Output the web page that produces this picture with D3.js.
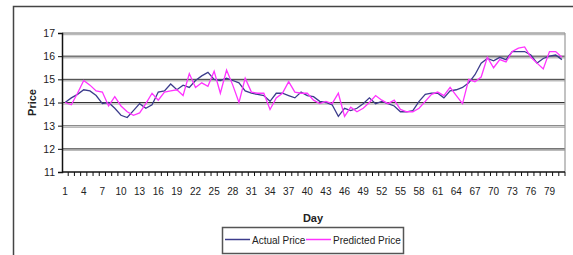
<!DOCTYPE html>
<html>
<head>
<meta charset="utf-8">
<script src="https://cdn.jsdelivr.net/npm/d3@7/dist/d3.min.js"></script>
<style>
  body { margin: 0; background: #fff; }
  svg text { font-family: "Liberation Sans", Arial, sans-serif; fill: #222; }
</style>
</head>
<body>
<svg id="chart" width="573" height="255"></svg>
<script>
// days 1..81
var days = d3.range(1, 82);
var actualPrice = [
  14.0, 14.2, 14.35, 14.55, 14.5, 14.3, 13.95, 14.0, 13.75, 13.45,
  13.35, 13.65, 13.95, 13.75, 13.9, 14.45, 14.5, 14.8, 14.55, 14.75,
  14.65, 14.95, 15.15, 15.3, 15.0, 14.95, 15.05, 14.95, 14.85, 14.5,
  14.4, 14.35, 14.3, 14.05, 14.4, 14.4, 14.3, 14.2, 14.45, 14.3,
  14.25, 14.05, 14.0, 13.9, 13.4, 13.75, 13.65, 13.75, 13.95, 14.2,
  13.95, 14.05, 13.95, 13.85, 13.6, 13.6, 13.65, 14.05, 14.35, 14.4,
  14.4, 14.2, 14.5, 14.55, 14.65, 14.85, 15.2, 15.7, 15.9, 15.8,
  15.95, 15.85, 16.2, 16.2, 16.2, 16.05, 15.7, 15.9, 16.0, 16.05,
  15.85
];
var predictedPrice = [
  14.0, 13.9, 14.4, 14.95, 14.75, 14.5, 14.45, 13.85, 14.25, 13.85,
  13.6, 13.45, 13.55, 13.95, 14.4, 14.1, 14.45, 14.5, 14.55, 14.3,
  15.25, 14.65, 14.85, 14.7, 15.35, 14.4, 15.4, 14.75, 14.0, 15.05,
  14.45, 14.4, 14.4, 13.7, 14.2, 14.4, 14.9, 14.45, 14.4, 14.4,
  14.1, 13.95, 14.05, 13.95, 14.4, 13.4, 13.8, 13.6, 13.75, 14.0,
  14.3, 14.1, 13.95, 14.1, 13.7, 13.6, 13.6, 13.75, 14.05, 14.35,
  14.45, 14.3, 14.65, 14.3, 13.95, 15.0, 14.9, 15.1, 15.95, 15.5,
  15.85, 15.75, 16.2, 16.35, 16.4, 15.95, 15.7, 15.45, 16.2, 16.2,
  15.95
];
var yTicks = [11, 12, 13, 14, 15, 16, 17];
var xTickLabels = d3.range(1, 82, 3);

var svg = d3.select('#chart');
var margin = { top: 33, right: 8, bottom: 83, left: 62 };
var width = 573, height = 255;
var innerWidth = width - margin.left - margin.right;
var innerHeight = height - margin.top - margin.bottom;

// outer frame (partial, like the cropped original)
svg.append('path')
  .attr('d', 'M13.5,255 L13.5,6.5 L573,6.5')
  .attr('fill', 'none')
  .attr('stroke', '#444')
  .attr('stroke-width', 1.5);

var g = svg.append('g')
  .attr('transform', 'translate(' + margin.left + ',' + margin.top + ')');

var x_scale = d3.scaleBand()
  .domain(days)
  .range([0, innerWidth]);

var y_scale = d3.scaleLinear()
  .domain([11, 17])
  .range([innerHeight, 0]);

// gridlines: dark line with a soft grey shadow
yTicks.slice(1).forEach(function(t) {
  g.append('line')
    .attr('x1', 0).attr('x2', innerWidth)
    .attr('y1', y_scale(t) + 1.5).attr('y2', y_scale(t) + 1.5)
    .attr('stroke', '#bbb').attr('stroke-width', 1.5);
  g.append('line')
    .attr('x1', 0).attr('x2', innerWidth)
    .attr('y1', y_scale(t)).attr('y2', y_scale(t))
    .attr('stroke', t === 17 || t === 13 ? '#777' : '#333').attr('stroke-width', 1);
});

// right border of plot area
g.append('line')
  .attr('x1', innerWidth).attr('x2', innerWidth)
  .attr('y1', 0).attr('y2', innerHeight)
  .attr('stroke', '#999').attr('stroke-width', 1.2);

// y axis
var yAxis = d3.axisLeft(y_scale).tickValues(yTicks).tickFormat(d3.format('d')).tickSize(4).tickPadding(3);
var yAxis_g = g.append('g').call(yAxis);
yAxis_g.select('.domain').attr('stroke', '#111').attr('stroke-width', 1.5);
yAxis_g.selectAll('.tick line').attr('stroke', '#111');
yAxis_g.selectAll('text').style('font-size', '10.5px').attr('fill', '#222');

// x axis: ticks at category boundaries, labels every 3rd day
var xAxis_g = g.append('g')
  .attr('transform', 'translate(0,' + innerHeight + ')');
xAxis_g.append('line')
  .attr('x1', 0).attr('x2', innerWidth)
  .attr('stroke', '#111').attr('stroke-width', 1.5);
xAxis_g.selectAll('.xt')
  .data(days)
  .enter().append('line')
  .attr('class', 'xt')
  .attr('x1', function(d) { return x_scale(d) + x_scale.bandwidth(); })
  .attr('x2', function(d) { return x_scale(d) + x_scale.bandwidth(); })
  .attr('y1', 0).attr('y2', 4)
  .attr('stroke', '#111').attr('stroke-width', 1);
xAxis_g.selectAll('.xl')
  .data(xTickLabels)
  .enter().append('text')
  .attr('class', 'xl')
  .attr('x', function(d) { return x_scale(d) + x_scale.bandwidth() / 2; })
  .attr('y', 23)
  .attr('text-anchor', 'middle')
  .style('font-size', '10px')
  .text(function(d) { return d; });

// series
var line = d3.line()
  .x(function(d, i) { return x_scale(days[i]) + x_scale.bandwidth() / 2; })
  .y(function(d) { return y_scale(d); });

g.append('path')
  .datum(actualPrice)
  .attr('fill', 'none')
  .attr('stroke', '#3c3c8c')
  .attr('stroke-width', 1.3)
  .attr('d', line);

g.append('path')
  .datum(predictedPrice)
  .attr('fill', 'none')
  .attr('stroke', '#ff33ff')
  .attr('stroke-width', 1.3)
  .attr('d', line);

// axis labels
svg.append('text')
  .attr('transform', 'translate(36,' + (margin.top + y_scale(14)) + ') rotate(-90)')
  .attr('text-anchor', 'middle')
  .style('font-size', '11px')
  .style('font-weight', 'bold')
  .text('Price');

svg.append('text')
  .attr('x', 313)
  .attr('y', 222)
  .attr('text-anchor', 'middle')
  .style('font-size', '11px')
  .style('font-weight', 'bold')
  .text('Day');

// legend
var legend = svg.append('g').attr('transform', 'translate(222,227)');
legend.append('rect')
  .attr('x', 0.5).attr('y', 0.5)
  .attr('width', 181).attr('height', 26)
  .attr('fill', '#fff')
  .attr('stroke', '#555').attr('stroke-width', 1.5);
var legendItems = [
  { name: 'Actual Price', color: '#3c3c8c', x: 3 },
  { name: 'Predicted Price', color: '#ff33ff', x: 84 }
];
legendItems.forEach(function(it) {
  legend.append('line')
    .attr('x1', it.x).attr('x2', it.x + 25)
    .attr('y1', 12.5).attr('y2', 12.5)
    .attr('stroke', it.color).attr('stroke-width', 1.5);
  legend.append('text')
    .attr('x', it.x + 27)
    .attr('y', 16.5)
    .style('font-size', '10px')
    .text(it.name);
});
</script>
</body>
</html>
